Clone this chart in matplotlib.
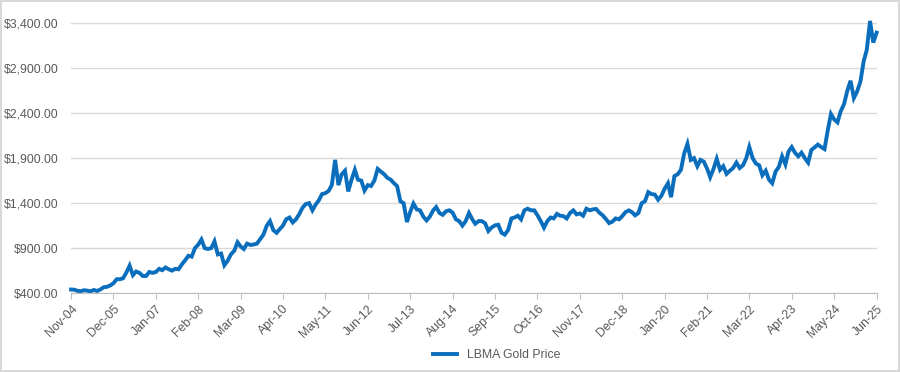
"""
LBMA gold price, Nov 2004 - Jun 2025 (monthly values read from chart)
"""

import numpy as np
import pandas as pd
import matplotlib
matplotlib.use('Agg')
import matplotlib.pyplot as plt
import matplotlib.ticker as mticker

#---------------------------------------------------------------------------------------------------
# Data
#---------------------------------------------------------------------------------------------------

start_month = '2004-11-01'

gold_2004 = [440, 438]
gold_2005 = [425, 422, 432, 428, 420, 435, 424, 440, 465, 470, 485, 510]
gold_2006 = [555, 555, 565, 630, 705, 600, 640, 625, 590, 590, 635, 625]
gold_2007 = [635, 670, 655, 685, 665, 650, 670, 665, 720, 765, 815, 805]
gold_2008 = [900, 940, 995, 900, 890, 900, 975, 830, 840, 710, 760, 830]
gold_2009 = [870, 965, 920, 890, 950, 935, 940, 950, 1000, 1050, 1150, 1200]
gold_2010 = [1100, 1070, 1110, 1150, 1220, 1240, 1185, 1220, 1280, 1350, 1390, 1400]
gold_2011 = [1320, 1385, 1430, 1500, 1510, 1535, 1600, 1880, 1600, 1720, 1760, 1530]
gold_2012 = [1660, 1770, 1660, 1650, 1540, 1600, 1590, 1650, 1780, 1750, 1720, 1680]
gold_2013 = [1660, 1620, 1590, 1420, 1400, 1190, 1300, 1395, 1330, 1320, 1250, 1208]
gold_2014 = [1250, 1320, 1356, 1290, 1270, 1310, 1320, 1295, 1220, 1200, 1150, 1200]
gold_2015 = [1290, 1220, 1170, 1200, 1200, 1175, 1090, 1130, 1153, 1160, 1070, 1050]
gold_2016 = [1100, 1230, 1240, 1260, 1220, 1320, 1338, 1320, 1320, 1265, 1200, 1127]
gold_2017 = [1200, 1240, 1230, 1280, 1260, 1255, 1230, 1290, 1319, 1275, 1285, 1260]
gold_2018 = [1338, 1320, 1330, 1335, 1295, 1265, 1225, 1178, 1195, 1230, 1220, 1255]
gold_2019 = [1300, 1319, 1300, 1264, 1290, 1400, 1420, 1522, 1500, 1495, 1438, 1480]
gold_2020 = [1560, 1620, 1466, 1700, 1720, 1770, 1950, 2058, 1880, 1900, 1810, 1880]
gold_2021 = [1860, 1780, 1688, 1780, 1892, 1770, 1810, 1725, 1760, 1790, 1850, 1790]
gold_2022 = [1820, 1900, 2023, 1900, 1840, 1820, 1710, 1760, 1660, 1621, 1750, 1800]
gold_2023 = [1920, 1830, 1970, 2023, 1960, 1920, 1960, 1900, 1850, 1990, 2020, 2050]
gold_2024 = [2023, 2000, 2200, 2390, 2330, 2297, 2420, 2500, 2650, 2759, 2567, 2640]
gold_2025 = [2750, 2980, 3100, 3423, 3183, 3293]

gold_price = (gold_2004 + gold_2005 + gold_2006 + gold_2007 + gold_2008 + gold_2009 +
              gold_2010 + gold_2011 + gold_2012 + gold_2013 + gold_2014 + gold_2015 +
              gold_2016 + gold_2017 + gold_2018 + gold_2019 + gold_2020 + gold_2021 +
              gold_2022 + gold_2023 + gold_2024 + gold_2025)

dates = pd.date_range(start_month, periods=len(gold_price), freq='MS')

y_ticks = [400, 900, 1400, 1900, 2400, 2900, 3400]
tick_step = 13   # months between x tick labels

#---------------------------------------------------------------------------------------------------
# Make Plot
#---------------------------------------------------------------------------------------------------

plt.rcParams['font.family'] = ['Liberation Sans', 'DejaVu Sans']
text_col = '#595959'
grid_col = '#D9D9D9'

fig = plt.figure(figsize=(9, 3.72), dpi=100)
fig.patch.set_edgecolor(grid_col)
fig.patch.set_linewidth(1.5)

ax = fig.add_axes([0.079, 0.212, 0.895, 0.726])
ax.plot(dates, gold_price, color='#0A6EBD', lw=2.8, label='LBMA Gold Price',
        solid_joinstyle='miter', clip_on=False)

ax.set_xlim(dates[0], dates[-1])
ax.set_ylim(400, 3400)
ax.set_yticks(y_ticks)
ax.yaxis.set_major_formatter(mticker.FuncFormatter(lambda v, p: f'${v:,.2f}'))
ax.grid(axis='y', color=grid_col, lw=1)
ax.set_axisbelow(True)

xt = dates[::tick_step]
ax.set_xticks(xt)
ax.set_xticklabels([d.strftime('%b-%y') for d in xt], rotation=45, ha='right',
                   rotation_mode='anchor')

for s in ['top', 'right', 'left']:
    ax.spines[s].set_visible(False)
ax.spines['bottom'].set_color('#BFBFBF')
ax.tick_params(axis='y', length=0, labelsize=8.8, labelcolor=text_col, pad=9)
ax.tick_params(axis='x', length=4, color='#BFBFBF', labelsize=8.8, labelcolor=text_col, pad=3)

fig.legend(loc='lower center', bbox_to_anchor=(0.552, 0.0), frameon=False, fontsize=8.8,
           labelcolor=text_col, handlelength=2.0)

plt.savefig('out.png', dpi=100)
